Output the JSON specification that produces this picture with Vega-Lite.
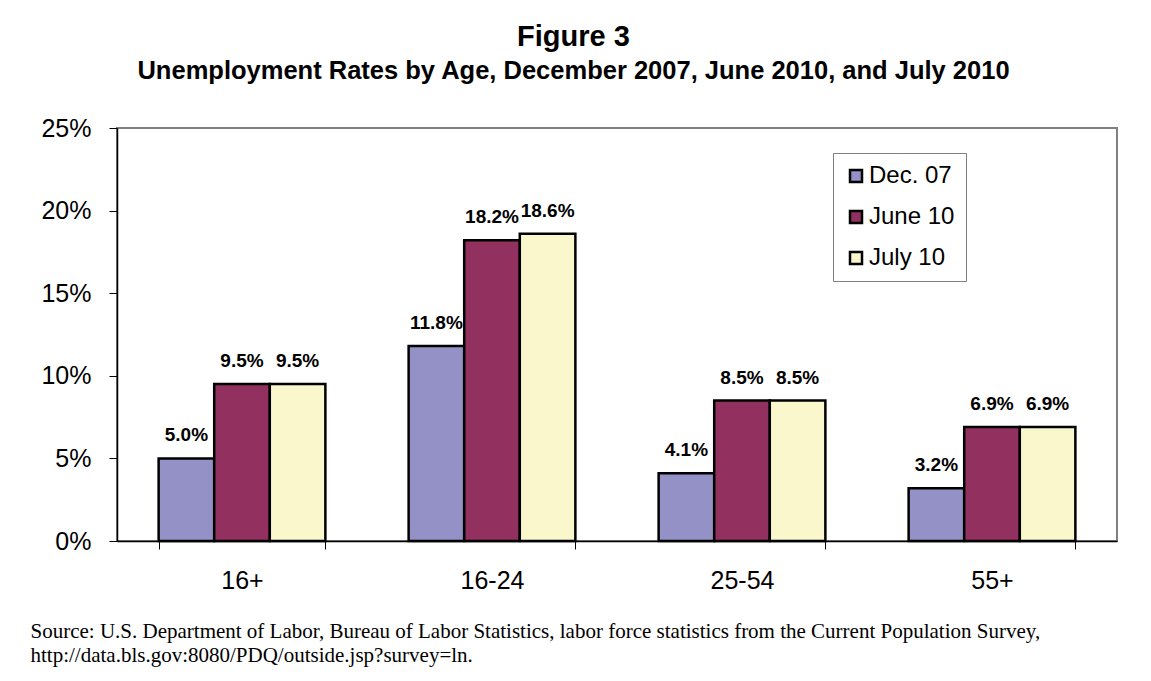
{
  "$schema": "https://vega.github.io/schema/vega-lite/v6.json",
  "autosize": "none",
  "width": 1000,
  "height": 413,
  "padding": {"left": 117, "top": 128, "right": 34, "bottom": 140},
  "background": "white",
  "title": {
    "text": "Figure 3",
    "subtitle": "Unemployment Rates by Age, December 2007, June 2010, and July 2010",
    "font": "Liberation Sans",
    "fontSize": 29,
    "fontWeight": "bold",
    "color": "black",
    "subtitleFont": "Liberation Sans",
    "subtitleFontSize": 25.5,
    "subtitleFontWeight": "bold",
    "subtitleColor": "black",
    "subtitlePadding": 7,
    "anchor": "middle",
    "frame": "bounds",
    "offset": 32
  },
  "data": {
    "values": [
      {"age": "16+", "period": "Dec. 07", "rate": 0.050},
      {"age": "16+", "period": "June 10", "rate": 0.095},
      {"age": "16+", "period": "July 10", "rate": 0.095},
      {"age": "16-24", "period": "Dec. 07", "rate": 0.118},
      {"age": "16-24", "period": "June 10", "rate": 0.182},
      {"age": "16-24", "period": "July 10", "rate": 0.186},
      {"age": "25-54", "period": "Dec. 07", "rate": 0.041},
      {"age": "25-54", "period": "June 10", "rate": 0.085},
      {"age": "25-54", "period": "July 10", "rate": 0.085},
      {"age": "55+", "period": "Dec. 07", "rate": 0.032},
      {"age": "55+", "period": "June 10", "rate": 0.069},
      {"age": "55+", "period": "July 10", "rate": 0.069}
    ]
  },
  "encoding": {
    "x": {
      "field": "age",
      "type": "nominal",
      "sort": ["16+", "16-24", "25-54", "55+"],
      "scale": {"paddingInner": 0.333, "paddingOuter": 0.1665},
      "axis": {
        "title": ["Source: U.S. Department of Labor, Bureau of Labor Statistics, labor force statistics from the Current Population Survey,", "http://data.bls.gov:8080/PDQ/outside.jsp?survey=ln."],
        "titleFont": "Liberation Serif",
        "titleFontSize": 21,
        "titleFontWeight": "normal",
        "titleColor": "black",
        "titleAnchor": "start",
        "titleAlign": "left",
        "titleBaseline": "top",
        "titleX": -87,
        "titleY": 79,
        "titleLineHeight": 24,
        "labelAngle": 0,
        "labelFont": "Liberation Sans",
        "labelFontSize": 25,
        "labelColor": "black",
        "labelPadding": 19,
        "tickBand": "extent",
        "tickSize": 8,
        "tickColor": "black",
        "tickWidth": 1,
        "domainColor": "black",
        "domainWidth": 1.5
      }
    },
    "xOffset": {
      "field": "period",
      "type": "nominal",
      "sort": ["Dec. 07", "June 10", "July 10"],
      "scale": {"paddingInner": 0, "paddingOuter": 0}
    },
    "y": {
      "field": "rate",
      "type": "quantitative",
      "scale": {"domain": [0, 0.25], "nice": false},
      "axis": {
        "title": null,
        "format": ".0%",
        "values": [0, 0.05, 0.1, 0.15, 0.2, 0.25],
        "grid": false,
        "labelFont": "Liberation Sans",
        "labelFontSize": 25,
        "labelColor": "black",
        "labelPadding": 18,
        "tickSize": 8,
        "tickColor": "black",
        "tickWidth": 1,
        "domainColor": "black",
        "domainWidth": 1.5
      }
    }
  },
  "layer": [
    {
      "mark": {"type": "bar", "stroke": "black", "strokeWidth": 2.5},
      "encoding": {
        "color": {
          "field": "period",
          "type": "nominal",
          "sort": ["Dec. 07", "June 10", "July 10"],
          "scale": {"domain": ["Dec. 07", "June 10", "July 10"], "range": ["#9391c6", "#92315f", "#faf7cc"]},
          "legend": {
            "title": null,
            "orient": "none",
            "legendX": 716,
            "legendY": 25,
            "direction": "vertical",
            "strokeColor": "#808080",
            "fillColor": "white",
            "padding": 11,
            "symbolType": "square",
            "symbolSize": 144,
            "symbolStrokeColor": "black",
            "symbolStrokeWidth": 2.5,
            "labelFont": "Liberation Sans",
            "labelFontSize": 24,
            "labelColor": "black",
            "labelOffset": 1,
            "rowPadding": 17
          }
        }
      }
    },
    {
      "mark": {"type": "text", "font": "Liberation Sans", "fontSize": 19, "fontWeight": "bold", "color": "black", "baseline": "alphabetic", "dy": -17},
      "encoding": {
        "text": {"field": "rate", "type": "quantitative", "format": ".1%"}
      }
    }
  ],
  "config": {
    "view": {"stroke": "#808080", "strokeWidth": 2}
  }
}
